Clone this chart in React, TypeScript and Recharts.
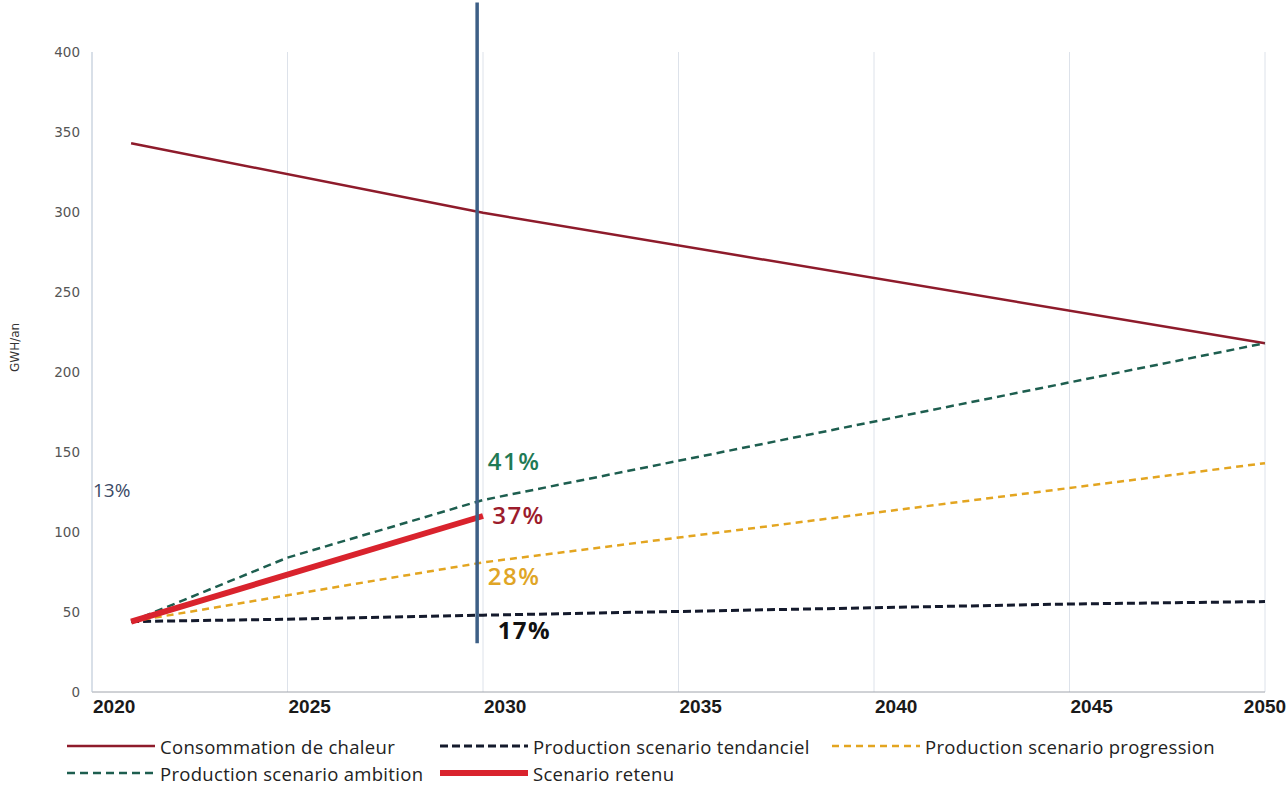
import React from "react";
import {
  LineChart,
  Line,
  XAxis,
  YAxis,
  CartesianGrid,
  ReferenceLine,
  ReferenceDot,
} from "recharts";

// values (GWh/an)
const consumptionYears = [2021, 2030, 2050];
const consumptionValues = [343, 299.5, 218];

const tendancielYears = [2021, 2025, 2030, 2045, 2050];
const tendancielValues = [44, 45.5, 48, 55, 56.5];

const progressionYears = [2021, 2030, 2050];
const progressionValues = [44, 81, 143];

const ambitionYears = [2021, 2025, 2030, 2050];
const ambitionValues = [44, 84, 120, 218];

const retenuYears = [2021, 2030];
const retenuValues = [44, 110];

const xTicks = [2020, 2025, 2030, 2035, 2040, 2045, 2050];
const yTicks = [0, 50, 100, 150, 200, 250, 300, 350, 400];

// the blue marker line (year, from value, to value)
const markerYear = 2029.85;
const markerFrom = 30.5;
const markerTo = 431;

const annotations = [
  { text: "41%", year: 2030.15, value: 143, color: "#1f7a55", size: 24, weight: 600 },
  { text: "37%", year: 2030.26, value: 109, color: "#9c1c2c", size: 24, weight: 600 },
  { text: "28%", year: 2030.15, value: 71, color: "#e0a526", size: 24, weight: 600 },
  { text: "17%", year: 2030.4, value: 37, color: "#111111", size: 24, weight: 700 },
  { text: "13%", year: 2020.05, value: 125, color: "#3b4a66", size: 19, weight: 400 },
];

const colors = {
  consumption: "#8e1b2b",
  tendanciel: "#141a2c",
  progression: "#e3a520",
  ambition: "#1d5e4f",
  retenu: "#d9232d",
  marker: "#3d5f86",
};

const toPoints = (years: number[], values: number[]) =>
  years.map((year, i) => ({ year, value: values[i] }));

const series = [
  { name: "Consommation de chaleur", data: toPoints(consumptionYears, consumptionValues), color: colors.consumption, width: 2.5, dash: undefined },
  { name: "Production scenario tendanciel", data: toPoints(tendancielYears, tendancielValues), color: colors.tendanciel, width: 3, dash: "8 4" },
  { name: "Production scenario progression", data: toPoints(progressionYears, progressionValues), color: colors.progression, width: 2.5, dash: "7 5" },
  { name: "Production scenario ambition", data: toPoints(ambitionYears, ambitionValues), color: colors.ambition, width: 2.5, dash: "8 5" },
  { name: "Scenario retenu", data: toPoints(retenuYears, retenuValues), color: colors.retenu, width: 6, dash: undefined },
];

// legend slots (row, left)
const legendSlots = [
  { top: 735, left: 67 },
  { top: 735, left: 440 },
  { top: 735, left: 832 },
  { top: 762, left: 67 },
  { top: 762, left: 440 },
];

const XTick = (props: any) => {
  const { x, y, payload } = props;
  const last = payload.value === 2050;
  return (
    <text
      x={last ? x : x + 1}
      y={y + 13}
      textAnchor={last ? "middle" : "start"}
      fill="#1a1a1a"
      fontSize={19}
      fontWeight={600}
      fontFamily="'Liberation Sans Narrow', 'Liberation Sans', sans-serif"
    >
      {payload.value}
    </text>
  );
};

const App = () => {
  return (
    <div style={{ position: "fixed", left: 0, top: 0, width: 1287, height: 787, background: "#fff" }}>
      <LineChart
        width={1287}
        height={787}
        margin={{ top: 52, right: 22, left: 8, bottom: 65 }}
      >
        <CartesianGrid horizontal={false} stroke="#dde2ea" />
        <XAxis
          dataKey="year"
          type="number"
          domain={[2020, 2050]}
          ticks={xTicks}
          tick={<XTick />}
          tickLine={false}
          axisLine={{ stroke: "#a0a4ac" }}
          height={30}
          allowDuplicatedCategory={false}
        />
        <YAxis
          dataKey="value"
          domain={[0, 400]}
          ticks={yTicks}
          width={84}
          tickLine={false}
          tickSize={6}
          tickMargin={6}
          axisLine={{ stroke: "#c3cedb" }}
          tick={{ fill: "#555", fontSize: 13.5, fontFamily: "DejaVu Sans" }}
          label={{
            value: "GWH/an",
            angle: -90,
            position: "insideLeft",
            offset: 7,
            fill: "#333",
            fontSize: 12,
            fontFamily: "DejaVu Sans",
          }}
        />
        {series.map((s) => (
          <Line
            key={s.name}
            data={s.data}
            dataKey="value"
            name={s.name}
            type="linear"
            stroke={s.color}
            strokeWidth={s.width}
            strokeDasharray={s.dash}
            dot={false}
            activeDot={false}
            isAnimationActive={false}
          />
        ))}
        <ReferenceLine
          segment={[
            { x: markerYear, y: markerFrom },
            { x: markerYear, y: markerTo },
          ]}
          stroke={colors.marker}
          strokeWidth={3.5}
          ifOverflow="visible"
        />
        {annotations.map((a) => (
          <ReferenceDot
            key={a.text}
            x={a.year}
            y={a.value}
            r={1}
            fill="none"
            stroke="none"
            ifOverflow="visible"
            label={(p: any) => (
              <text
                x={p.viewBox.x}
                y={p.viewBox.y + 1}
                dominantBaseline="middle"
                fill={a.color}
                fontSize={a.size}
                fontWeight={a.weight}
                letterSpacing={a.size > 20 ? 1.5 : 0}
                fontFamily="'Open Sans', sans-serif"
              >
                {a.text}
              </text>
            )}
          />
        ))}
      </LineChart>
      {series.map((s, i) => (
        <div
          key={s.name}
          style={{
            position: "absolute",
            left: legendSlots[i].left,
            top: legendSlots[i].top,
            height: 22,
            display: "flex",
            alignItems: "center",
            fontFamily: "'Open Sans', sans-serif",
            fontSize: 18.5,
            fontWeight: 500,
            letterSpacing: 0.3,
            color: "#222",
            whiteSpace: "nowrap",
          }}
        >
          <svg width={88} height={8} style={{ marginRight: 5 }}>
            <line
              x1={0}
              y1={4}
              x2={88}
              y2={4}
              stroke={s.color}
              strokeWidth={s.width}
              strokeDasharray={s.dash}
            />
          </svg>
          {s.name}
        </div>
      ))}
    </div>
  );
};

export default App;
